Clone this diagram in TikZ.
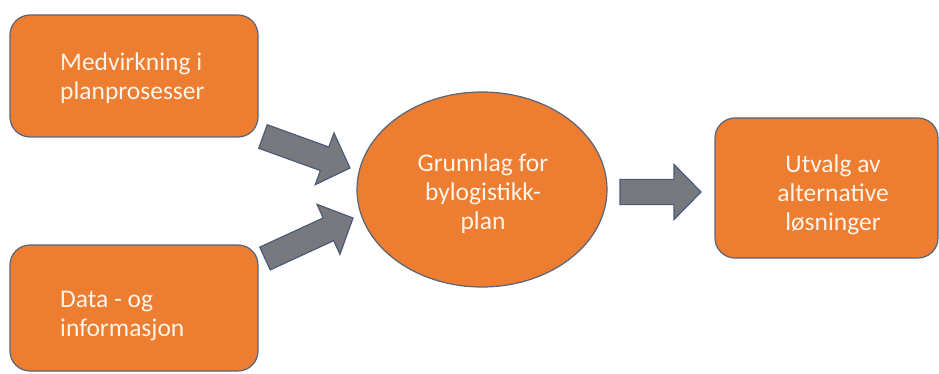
\documentclass[tikz,border=0pt]{standalone}
\usepackage{fontspec}
\setmainfont{Carlito}
\usetikzlibrary{calc,shapes.geometric}

\definecolor{boxfill}{HTML}{ED7D31}
\definecolor{boxline}{HTML}{56657A}
\definecolor{boxtextcol}{HTML}{FFF4EA}
\definecolor{arrowfill}{HTML}{77797E}
\definecolor{arrowline}{HTML}{4A5C78}

\tikzset{
  stepbox/.style={draw=boxline, fill=boxfill, line width=1.2pt,
    rounded corners=20pt, inner sep=0pt, rectangle},
  hub/.style={draw=boxline, fill=boxfill, line width=1.2pt,
    ellipse, inner sep=0pt},
  boxtext/.style={text=boxtextcol, inner sep=0pt,
    font=\fontsize{25.5}{29}\selectfont},
  blockarrow/.style={fill=arrowfill, draw=arrowline, line width=1.2pt,
    line join=miter},
}

% block arrow from coordinate #1 to coordinate #2 (tip at #2)
\newcommand\drawblockarrow[2]{%
  \coordinate (hb) at ($(#2)!27pt!(#1)$);
  \draw[blockarrow]
    ($(#1)!12.5pt!90:(#2)$) -- ($(hb)!12.5pt!90:(#2)$)
    -- ($(hb)!27.5pt!90:(#2)$) -- (#2)
    -- ($(hb)!27.5pt!-90:(#2)$) -- ($(hb)!12.5pt!-90:(#2)$)
    -- ($(#1)!12.5pt!-90:(#2)$) -- cycle;
}

\begin{document}
\begin{tikzpicture}[x=1pt, y=-1pt]
  \useasboundingbox (0,0) rectangle (939,374);

  % input boxes
  \node[stepbox, minimum width=248pt, minimum height=122pt] (medv) at (134,76) {};
  \node[stepbox, minimum width=248pt, minimum height=126pt] (data) at (134,308) {};
  % central ellipse
  \node[hub, minimum width=250pt, minimum height=195pt] (grunn) at (482,189.5) {};
  % result box
  \node[stepbox, minimum width=223pt, minimum height=140pt] (utv) at (826.5,188) {};

  % labels
  \node[boxtext, align=left, anchor=west] (medvtxt) at (60,78) {Medvirkning i\\planprosesser};
  \node[boxtext, align=left, anchor=west] (datatxt) at (60,316) {Data - og\\informasjon};
  \node[boxtext, align=center] (grunntxt) at (483,194) {Grunnlag for\\bylogistikk-\\plan};
  \node[boxtext, align=center] (utvtxt) at (833,195) {Utvalg av\\alternative\\løsninger};

  % arrow end points
  \coordinate (a1s) at (263,136.5);
  \coordinate (a1e) at (350,168);
  \coordinate (a2s) at (265,258.5);
  \coordinate (a2e) at (353,218);
  \coordinate (a3s) at (620,192);
  \coordinate (a3e) at (701,192);

  \drawblockarrow{a1s}{a1e}
  \drawblockarrow{a2s}{a2e}
  \drawblockarrow{a3s}{a3e}
\end{tikzpicture}
\end{document}
